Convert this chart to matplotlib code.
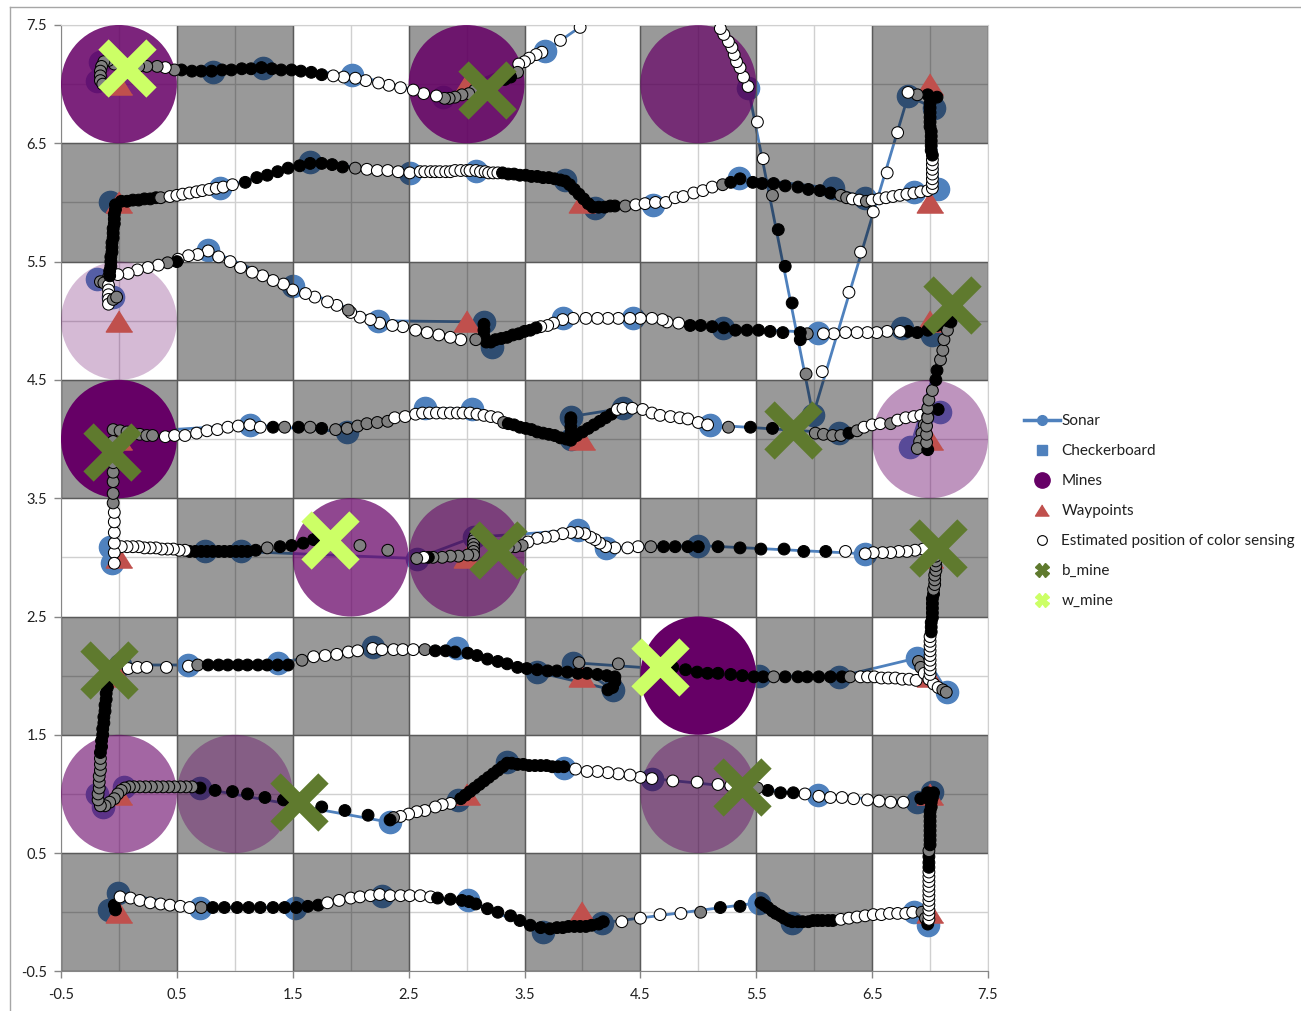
import numpy as np
import matplotlib
matplotlib.use("Agg")
import matplotlib.pyplot as plt
from matplotlib.patches import Rectangle, Ellipse
from matplotlib.lines import Line2D

plt.rcParams['font.family'] = ['Lato', 'DejaVu Sans']
plt.rcParams['axes.unicode_minus'] = False

# 8x8 board, cells centred on integer coordinates
board_n = 8

# mines: cell centre and detection strength (drawn as opacity)
mine_x = [0, 3, 5, 0, 0, 7, 2, 3, 5, 0, 1, 5]
mine_y = [7, 7, 7, 5, 4, 4, 3, 3, 2, 1, 1, 1]
mine_level = [0.86, 0.86, 0.70, 0.27, 1.0, 0.42, 0.72, 0.58, 1.0, 0.60, 0.38, 0.42]

# lawnmower route waypoints
wp_x = [0, 4, 7, 7, 3, 0, 0, 4, 7, 7, 3, 0, 0, 4, 7, 7, 3, 0, 0, 4, 7, 7, 3, 0]
wp_y = [0, 0, 0, 1, 1, 1, 2, 2, 2, 3, 3, 3, 4, 4, 4, 5, 5, 5, 6, 6, 6, 7, 7, 7]

# sonar track in driving order; sonar_fix = 0 marks a route corner with no fix
sonar_x = [-0.09, -0.01, 0.70, 1.52, 2.27, 3.01, 3.66, 4.17, 5.52, 5.81, 6.86, 6.98,
           7.02, 6.89, 6.03, 4.60, 3.84, 3.35, 2.93, 2.34, 0.70, 0.04, -0.14, -0.19, -0.09,
           0.01, 0.60, 1.37, 2.19, 2.92, 3.61, 4.26, 3.92, 5.52, 6.21, 6.89, 7.15, 7.00, 7.05,
           6.44, 5.00, 4.20, 3.96, 3.06, 2.57, 1.05, 0.74, -0.08, -0.06, -0.05,
           1.13, 1.97, 2.64, 3.05, 3.90, 3.90, 4.35, 5.10, 6.21, 7.09, 6.83, 7.18,
           7.02, 6.76, 6.03, 5.21, 4.44, 3.83, 3.22, 3.15, 2.24, 1.50, 0.77, -0.19, -0.05,
           -0.08, 0.87, 1.65, 2.51, 3.08, 3.85, 4.11, 4.61, 5.35, 6.16, 6.44, 6.86, 7.07,
           7.03, 6.81, 5.99, 5.43, 5.05, 4.30,
           3.68, 2.80, 2.01, 1.24, 0.81, -0.16, -0.19]
sonar_y = [0.02, 0.16, 0.04, 0.04, 0.14, 0.10, -0.17, -0.09, 0.08, -0.09, 0.00, -0.11,
           1.02, 0.93, 0.99, 1.13, 1.22, 1.27, 0.95, 0.76, 1.05, 1.06, 0.89, 1.00, 2.02,
           2.09, 2.09, 2.11, 2.24, 2.23, 2.03, 1.88, 2.11, 2.00, 1.99, 2.15, 1.86, 2.10, 3.05,
           3.03, 3.10, 3.08, 3.23, 3.17, 2.99, 3.05, 3.05, 3.09, 2.95, 4.05,
           4.12, 4.06, 4.26, 4.25, 4.00, 4.19, 4.26, 4.12, 4.05, 4.23, 3.93, 5.00,
           4.88, 4.94, 4.90, 4.94, 5.02, 5.02, 4.78, 4.99, 5.00, 5.29, 5.60, 5.35, 5.20,
           6.00, 6.12, 6.34, 6.25, 6.27, 6.19, 5.95, 5.98, 6.21, 6.12, 6.04, 6.09, 6.11,
           6.80, 6.90, 4.20, 6.97, 7.80, 7.70,
           7.28, 6.89, 7.08, 7.14, 7.10, 7.19, 7.03]
sonar_fix = [1, 1, 1, 1, 1, 1, 1, 1, 1, 1, 1, 1,
             1, 1, 1, 1, 1, 1, 1, 1, 1, 1, 1, 1, 0,
             1, 1, 1, 1, 1, 1, 1, 1, 1, 1, 1, 1, 0, 0,
             1, 1, 1, 1, 1, 1, 1, 1, 1, 1, 0,
             1, 1, 1, 1, 1, 1, 1, 1, 1, 1, 1, 0,
             1, 1, 1, 1, 1, 1, 1, 1, 1, 1, 1, 1, 1,
             1, 1, 1, 1, 1, 1, 1, 1, 1, 1, 1, 1, 1,
             1, 1, 1, 1, 0, 0,
             1, 1, 1, 1, 1, 1, 1]

# mine detections
b_mine_x = [3.18, 7.19, -0.06, 5.82, 3.27, 7.07, -0.09, 1.55, 5.38]
b_mine_y = [6.95, 5.13, 3.89, 4.08, 3.06, 3.08, 2.05, 0.93, 1.06]
w_mine_x = [0.07, 1.82, 4.67]
w_mine_y = [7.14, 3.15, 2.07]

# estimated position at each colour reading: (x, y, reading) w=white, k=black, g=grey
row0_dots = [
    (-0.03, 0.02, 'k'), (-0.04, 0.06, 'k'), (0.01, 0.13, 'w'), (0.10, 0.12, 'w'), (0.18, 0.10, 'w'),
    (0.27, 0.08, 'w'), (0.36, 0.07, 'w'), (0.44, 0.06, 'w'), (0.53, 0.05, 'w'), (0.61, 0.04, 'w'),
    (0.71, 0.04, 'g'), (0.81, 0.04, 'k'), (0.91, 0.04, 'k'), (1.02, 0.04, 'k'), (1.12, 0.04, 'k'),
    (1.22, 0.04, 'k'), (1.33, 0.04, 'k'), (1.43, 0.04, 'k'), (1.53, 0.04, 'k'), (1.63, 0.05, 'k'),
    (1.72, 0.06, 'k'), (1.80, 0.08, 'w'), (1.90, 0.10, 'w'), (2.00, 0.12, 'w'), (2.08, 0.13, 'w'),
    (2.17, 0.14, 'w'), (2.25, 0.15, 'w'), (2.34, 0.14, 'w'), (2.43, 0.14, 'w'), (2.51, 0.14, 'w'),
    (2.60, 0.14, 'w'), (2.69, 0.13, 'w'), (2.75, 0.12, 'k'), (2.86, 0.11, 'k'), (2.96, 0.10, 'k'),
    (3.02, 0.09, 'k'), (3.08, 0.07, 'k'), (3.18, 0.03, 'k'), (3.27, 0.00, 'k'), (3.38, -0.03, 'k'),
    (3.46, -0.07, 'k'), (3.55, -0.11, 'k'), (3.64, -0.13, 'k'), (3.72, -0.14, 'k'), (3.78, -0.13, 'k'),
    (3.83, -0.13, 'k'), (3.88, -0.12, 'k'), (3.93, -0.12, 'k'), (3.98, -0.12, 'k'), (4.03, -0.12, 'k'),
    (4.08, -0.11, 'k'), (4.14, -0.10, 'k'), (4.18, -0.08, 'k'), (4.34, -0.08, 'w'), (4.50, -0.05, 'w'),
    (4.67, -0.02, 'w'), (4.85, -0.01, 'w'), (5.02, 0.00, 'g'), (5.19, 0.04, 'k'), (5.36, 0.05, 'k'),
    (5.54, 0.08, 'k'), (5.57, 0.06, 'k'), (5.60, 0.04, 'k'), (5.64, 0.01, 'k'), (5.67, -0.01, 'k'),
    (5.71, -0.03, 'k'), (5.74, -0.05, 'k'), (5.78, -0.07, 'k'), (5.81, -0.08, 'k'), (5.86, -0.08, 'k'),
    (5.90, -0.08, 'k'), (5.95, -0.08, 'k'), (5.99, -0.07, 'k'), (6.03, -0.07, 'k'), (6.07, -0.07, 'k'),
    (6.12, -0.07, 'k'), (6.16, -0.07, 'k'), (6.23, -0.06, 'w'), (6.30, -0.05, 'w'), (6.37, -0.04, 'w'),
    (6.44, -0.03, 'w'), (6.51, -0.02, 'w'), (6.58, -0.02, 'w'), (6.65, -0.01, 'w'), (6.72, -0.01, 'w'),
    (6.79, -0.01, 'w'), (6.85, 0.00, 'w'), (6.93, 0.00, 'g'), (6.96, -0.05, 'g'), (6.98, -0.10, 'k'),
    (6.99, -0.06, 'w'), (6.99, -0.02, 'w'), (6.99, 0.02, 'w'), (6.99, 0.06, 'w'), (6.99, 0.10, 'w'),
    (6.99, 0.14, 'w'), (6.99, 0.18, 'w'), (6.99, 0.22, 'w'), (6.99, 0.26, 'w'), (6.99, 0.30, 'w'),
    (6.99, 0.34, 'w'), (6.99, 0.38, 'k'), (6.99, 0.42, 'k'), (6.99, 0.47, 'k'), (6.99, 0.52, 'g'),
    (7.00, 0.57, 'k'), (7.00, 0.61, 'k'), (7.00, 0.65, 'k'), (7.00, 0.69, 'k'), (7.00, 0.73, 'k'),
    (7.00, 0.77, 'k'), (7.00, 0.81, 'k'), (7.00, 0.85, 'k'), (7.01, 0.89, 'k'), (7.01, 0.93, 'k'),
    (7.02, 0.97, 'k'), (7.03, 1.01, 'k'), (6.98, 1.01, 'k'), (6.92, 0.96, 'k'),
]

row1_dots = [
    (6.77, 0.93, 'w'), (6.66, 0.93, 'w'), (6.56, 0.94, 'w'), (6.46, 0.95, 'w'), (6.34, 0.96, 'w'),
    (6.24, 0.97, 'w'), (6.14, 0.97, 'w'), (6.04, 0.98, 'w'), (5.92, 1.00, 'w'), (5.82, 1.01, 'k'),
    (5.71, 1.01, 'k'), (5.60, 1.03, 'k'), (5.51, 1.05, 'g'), (5.28, 1.07, 'w'), (5.17, 1.08, 'w'),
    (4.99, 1.10, 'w'), (4.78, 1.11, 'w'), (4.60, 1.13, 'w'), (4.50, 1.14, 'w'), (4.41, 1.16, 'w'),
    (4.31, 1.17, 'w'), (4.22, 1.18, 'w'), (4.13, 1.19, 'w'), (4.04, 1.19, 'w'), (3.94, 1.21, 'w'),
    (3.84, 1.23, 'k'), (3.79, 1.23, 'k'), (3.74, 1.23, 'k'), (3.69, 1.24, 'k'), (3.64, 1.24, 'k'),
    (3.59, 1.24, 'k'), (3.54, 1.24, 'k'), (3.49, 1.25, 'k'), (3.44, 1.25, 'k'), (3.39, 1.26, 'k'),
    (3.35, 1.26, 'k'), (3.31, 1.23, 'k'), (3.27, 1.20, 'k'), (3.23, 1.17, 'k'), (3.19, 1.14, 'k'),
    (3.15, 1.11, 'k'), (3.11, 1.08, 'k'), (3.07, 1.05, 'k'), (3.03, 1.02, 'k'), (2.99, 0.99, 'k'),
    (2.95, 0.96, 'k'), (2.86, 0.92, 'w'), (2.79, 0.91, 'w'), (2.73, 0.89, 'w'), (2.64, 0.86, 'w'),
    (2.57, 0.85, 'w'), (2.50, 0.83, 'w'), (2.43, 0.81, 'w'), (2.37, 0.80, 'g'), (2.34, 0.78, 'k'),
    (2.15, 0.82, 'k'), (1.95, 0.86, 'k'), (1.75, 0.89, 'k'), (1.42, 0.95, 'k'), (1.26, 0.97, 'k'),
    (1.11, 1.00, 'k'), (0.98, 1.02, 'k'), (0.83, 1.03, 'k'), (0.70, 1.05, 'k'), (0.63, 1.06, 'g'),
    (0.58, 1.06, 'g'), (0.53, 1.06, 'g'), (0.48, 1.06, 'g'), (0.43, 1.06, 'g'), (0.38, 1.06, 'g'),
    (0.33, 1.06, 'g'), (0.28, 1.06, 'g'), (0.23, 1.06, 'g'), (0.18, 1.06, 'g'), (0.13, 1.06, 'g'),
    (0.09, 1.06, 'g'), (0.05, 1.05, 'g'), (0.02, 1.03, 'g'), (-0.01, 1.00, 'g'), (-0.04, 0.96, 'g'),
    (-0.08, 0.93, 'g'), (-0.12, 0.90, 'g'), (-0.16, 0.90, 'g'), (-0.18, 0.95, 'g'), (-0.18, 1.00, 'g'),
    (-0.17, 1.05, 'g'), (-0.17, 1.10, 'g'), (-0.17, 1.15, 'g'), (-0.16, 1.20, 'g'), (-0.16, 1.25, 'g'),
    (-0.16, 1.30, 'g'), (-0.16, 1.35, 'k'), (-0.15, 1.40, 'k'), (-0.15, 1.45, 'k'), (-0.14, 1.50, 'k'),
    (-0.14, 1.55, 'k'), (-0.13, 1.60, 'k'), (-0.13, 1.65, 'k'), (-0.12, 1.70, 'k'), (-0.12, 1.75, 'k'),
    (-0.11, 1.80, 'k'), (-0.11, 1.85, 'k'), (-0.10, 1.90, 'k'), (-0.10, 1.95, 'k'), (-0.09, 2.00, 'k'),
]

row2_dots = [
    (0.08, 2.06, 'w'), (0.16, 2.07, 'w'), (0.24, 2.07, 'w'), (0.41, 2.07, 'w'), (0.60, 2.08, 'w'),
    (0.68, 2.09, 'g'), (0.77, 2.09, 'k'), (0.86, 2.09, 'k'), (0.94, 2.09, 'k'), (1.03, 2.09, 'k'),
    (1.11, 2.09, 'k'), (1.20, 2.09, 'k'), (1.28, 2.09, 'k'), (1.37, 2.09, 'k'), (1.46, 2.09, 'k'),
    (1.58, 2.13, 'g'), (1.68, 2.16, 'w'), (1.78, 2.17, 'w'), (1.88, 2.18, 'w'), (1.98, 2.20, 'w'),
    (2.06, 2.21, 'w'), (2.19, 2.23, 'w'), (2.27, 2.22, 'w'), (2.37, 2.22, 'w'), (2.45, 2.22, 'w'),
    (2.54, 2.22, 'w'), (2.64, 2.22, 'g'), (2.73, 2.21, 'k'), (2.82, 2.21, 'k'), (2.90, 2.20, 'k'),
    (3.01, 2.19, 'k'), (3.09, 2.17, 'k'), (3.18, 2.14, 'k'), (3.27, 2.12, 'k'), (3.35, 2.10, 'k'),
    (3.44, 2.07, 'k'), (3.52, 2.06, 'k'), (3.61, 2.05, 'k'), (3.70, 2.04, 'k'), (3.78, 2.04, 'k'),
    (3.87, 2.03, 'k'), (3.96, 2.02, 'k'), (4.04, 2.02, 'k'), (4.13, 2.01, 'k'), (4.21, 2.00, 'k'),
    (4.28, 1.99, 'k'), (4.28, 1.95, 'k'), (4.26, 1.90, 'k'), (4.22, 1.88, 'k'), (3.97, 2.11, 'g'),
    (4.31, 2.10, 'g'), (4.78, 2.07, 'k'), (4.89, 2.05, 'k'), (4.99, 2.03, 'k'), (5.08, 2.02, 'k'),
    (5.17, 2.02, 'k'), (5.28, 2.01, 'k'), (5.38, 2.00, 'k'), (5.48, 1.99, 'k'), (5.56, 1.99, 'k'),
    (5.65, 1.99, 'g'), (5.75, 1.99, 'k'), (5.86, 1.99, 'k'), (5.94, 1.99, 'k'), (6.04, 1.99, 'k'),
    (6.14, 1.99, 'k'), (6.24, 1.99, 'k'), (6.31, 1.99, 'g'), (6.40, 1.99, 'w'), (6.46, 1.99, 'w'),
    (6.52, 1.99, 'w'), (6.58, 1.98, 'w'), (6.64, 1.98, 'w'), (6.70, 1.98, 'w'), (6.76, 1.97, 'w'),
    (6.82, 1.97, 'w'), (6.88, 1.96, 'w'), (6.90, 2.12, 'g'), (6.92, 2.07, 'g'), (6.95, 2.02, 'w'),
    (6.99, 1.97, 'w'), (7.03, 1.93, 'w'), (7.07, 1.90, 'w'), (7.11, 1.88, 'g'), (7.14, 1.86, 'g'),
    (7.00, 2.01, 'w'), (7.00, 2.05, 'w'), (7.00, 2.09, 'w'), (7.00, 2.13, 'w'), (7.00, 2.17, 'w'),
    (7.00, 2.21, 'w'), (7.00, 2.25, 'w'), (7.00, 2.29, 'w'), (7.00, 2.33, 'w'), (7.01, 2.37, 'k'),
    (7.01, 2.41, 'k'), (7.01, 2.45, 'k'), (7.02, 2.49, 'k'), (7.02, 2.53, 'k'), (7.02, 2.57, 'k'),
    (7.02, 2.61, 'k'), (7.02, 2.65, 'k'), (7.03, 2.69, 'k'), (7.03, 2.73, 'g'), (7.04, 2.77, 'g'),
    (7.04, 2.81, 'g'), (7.04, 2.85, 'g'), (7.05, 2.89, 'g'), (7.05, 2.93, 'g'), (7.05, 2.97, 'g'),
    (7.05, 3.01, 'g'),
]

row3_dots = [
    (6.94, 3.07, 'w'), (6.87, 3.06, 'w'), (6.80, 3.05, 'w'), (6.73, 3.05, 'w'), (6.66, 3.04, 'w'),
    (6.59, 3.04, 'w'), (6.51, 3.04, 'w'), (6.44, 3.03, 'w'), (6.27, 3.05, 'w'), (6.10, 3.05, 'k'),
    (5.91, 3.05, 'k'), (5.74, 3.07, 'k'), (5.54, 3.07, 'k'), (5.36, 3.08, 'k'), (5.17, 3.09, 'k'),
    (5.00, 3.09, 'k'), (4.91, 3.09, 'k'), (4.80, 3.09, 'k'), (4.70, 3.09, 'k'), (4.59, 3.09, 'g'),
    (4.48, 3.09, 'w'), (4.39, 3.08, 'w'), (4.28, 3.08, 'w'), (4.20, 3.09, 'w'), (4.15, 3.12, 'w'),
    (4.11, 3.15, 'w'), (4.07, 3.17, 'w'), (4.02, 3.20, 'w'), (3.96, 3.21, 'w'), (3.90, 3.21, 'w'),
    (3.83, 3.20, 'w'), (3.75, 3.18, 'w'), (3.68, 3.17, 'w'), (3.61, 3.16, 'w'), (3.53, 3.13, 'w'),
    (3.48, 3.10, 'g'), (3.42, 3.09, 'g'), (3.36, 3.08, 'g'), (3.07, 3.17, 'g'), (3.06, 3.14, 'g'),
    (3.06, 3.11, 'g'), (3.06, 3.08, 'g'), (3.06, 3.05, 'g'), (3.06, 3.02, 'g'), (3.01, 3.02, 'g'),
    (2.93, 3.01, 'g'), (2.86, 3.01, 'g'), (2.79, 3.00, 'g'), (2.71, 3.00, 'g'), (2.67, 3.00, 'k'),
    (2.63, 3.00, 'w'), (2.57, 2.99, 'g'), (2.32, 3.06, 'g'), (2.08, 3.10, 'g'), (1.68, 3.15, 'k'),
    (1.59, 3.12, 'k'), (1.49, 3.10, 'k'), (1.39, 3.09, 'k'), (1.28, 3.08, 'g'), (1.18, 3.06, 'k'),
    (1.11, 3.05, 'k'), (1.06, 3.05, 'k'), (1.01, 3.05, 'k'), (0.96, 3.05, 'k'), (0.91, 3.05, 'k'),
    (0.86, 3.05, 'k'), (0.81, 3.05, 'k'), (0.76, 3.05, 'k'), (0.71, 3.05, 'k'), (0.66, 3.05, 'k'),
    (0.61, 3.05, 'k'), (0.57, 3.06, 'w'), (0.52, 3.06, 'w'), (0.47, 3.07, 'w'), (0.42, 3.07, 'w'),
    (0.37, 3.07, 'w'), (0.32, 3.08, 'w'), (0.27, 3.08, 'w'), (0.22, 3.08, 'w'), (0.17, 3.09, 'w'),
    (0.12, 3.09, 'w'), (0.07, 3.09, 'w'), (0.02, 3.09, 'w'), (-0.04, 3.04, 'w'), (-0.04, 2.95, 'w'),
    (-0.04, 3.12, 'w'), (-0.04, 3.21, 'w'), (-0.04, 3.30, 'w'), (-0.04, 3.38, 'w'), (-0.05, 3.46, 'g'),
    (-0.05, 3.54, 'g'), (-0.05, 3.64, 'g'), (-0.05, 3.72, 'g'), (-0.05, 3.80, 'g'), (-0.05, 3.89, 'g'),
    (-0.05, 3.98, 'g'),
]

row4_dots = [
    (-0.05, 4.08, 'g'), (0.01, 4.07, 'g'), (0.07, 4.06, 'g'), (0.12, 4.05, 'g'), (0.18, 4.04, 'g'),
    (0.24, 4.03, 'g'), (0.29, 4.03, 'g'), (0.40, 4.02, 'w'), (0.48, 4.03, 'w'), (0.57, 4.03, 'w'),
    (0.67, 4.05, 'w'), (0.76, 4.07, 'w'), (0.85, 4.08, 'w'), (0.94, 4.10, 'w'), (1.03, 4.11, 'w'),
    (1.13, 4.12, 'w'), (1.22, 4.10, 'w'), (1.33, 4.10, 'k'), (1.43, 4.10, 'g'), (1.55, 4.10, 'k'),
    (1.65, 4.10, 'g'), (1.75, 4.09, 'k'), (1.87, 4.08, 'g'), (1.97, 4.09, 'g'), (2.06, 4.11, 'g'),
    (2.14, 4.13, 'g'), (2.23, 4.14, 'g'), (2.32, 4.15, 'g'), (2.38, 4.18, 'w'), (2.47, 4.19, 'w'),
    (2.56, 4.21, 'w'), (2.62, 4.22, 'w'), (2.68, 4.22, 'w'), (2.74, 4.22, 'w'), (2.80, 4.22, 'w'),
    (2.86, 4.22, 'w'), (2.92, 4.22, 'w'), (2.97, 4.22, 'w'), (3.03, 4.22, 'w'), (3.09, 4.21, 'w'),
    (3.15, 4.20, 'w'), (3.21, 4.19, 'w'), (3.27, 4.18, 'w'), (3.32, 4.14, 'g'), (3.36, 4.13, 'k'),
    (3.41, 4.12, 'k'), (3.46, 4.10, 'k'), (3.51, 4.09, 'k'), (3.56, 4.08, 'k'), (3.61, 4.06, 'k'),
    (3.66, 4.05, 'k'), (3.71, 4.04, 'k'), (3.76, 4.03, 'k'), (3.81, 4.01, 'k'), (3.86, 4.00, 'k'),
    (3.90, 3.99, 'k'), (3.90, 4.05, 'k'), (3.90, 4.10, 'k'), (3.90, 4.15, 'k'), (3.90, 4.18, 'k'),
    (3.95, 4.03, 'k'), (4.00, 4.06, 'k'), (4.05, 4.09, 'k'), (4.10, 4.12, 'k'), (4.15, 4.15, 'k'),
    (4.20, 4.18, 'k'), (4.25, 4.21, 'k'), (4.30, 4.25, 'w'), (4.35, 4.26, 'w'), (4.43, 4.26, 'w'),
    (4.52, 4.25, 'w'), (4.60, 4.22, 'w'), (4.67, 4.20, 'w'), (4.76, 4.19, 'w'), (4.84, 4.18, 'w'),
    (4.91, 4.17, 'w'), (5.00, 4.14, 'w'), (5.08, 4.12, 'w'), (5.26, 4.10, 'g'), (5.45, 4.10, 'k'),
    (5.64, 4.09, 'k'), (6.01, 4.05, 'g'), (6.08, 4.04, 'g'), (6.16, 4.03, 'g'), (6.23, 4.03, 'g'),
    (6.30, 4.05, 'k'), (6.37, 4.07, 'g'), (6.43, 4.10, 'w'), (6.50, 4.12, 'w'), (6.57, 4.13, 'w'),
    (6.66, 4.13, 'g'), (6.72, 4.16, 'w'), (6.79, 4.18, 'w'), (6.86, 4.19, 'w'), (6.92, 4.20, 'w'),
    (7.07, 4.25, 'k'), (6.98, 4.19, 'g'), (6.95, 4.12, 'g'), (6.93, 4.05, 'g'), (6.91, 3.98, 'g'),
    (6.89, 3.92, 'g'), (6.98, 3.91, 'k'), (6.97, 3.97, 'g'), (6.97, 4.04, 'g'), (6.97, 4.11, 'g'),
    (6.98, 4.18, 'g'), (6.98, 4.26, 'g'), (6.99, 4.33, 'g'), (7.02, 4.41, 'g'), (7.05, 4.50, 'k'),
    (7.06, 4.58, 'k'), (7.09, 4.67, 'g'), (7.11, 4.75, 'g'), (7.12, 4.84, 'g'), (7.15, 4.92, 'g'),
    (7.18, 4.99, 'k'),
]

row5_dots = [
    (7.15, 5.00, 'k'), (7.06, 4.96, 'k'), (6.98, 4.92, 'k'), (6.89, 4.90, 'k'), (6.81, 4.91, 'k'),
    (6.74, 4.91, 'w'), (6.63, 4.91, 'w'), (6.54, 4.90, 'w'), (6.46, 4.90, 'w'), (6.37, 4.90, 'w'),
    (6.27, 4.90, 'w'), (6.17, 4.89, 'w'), (6.08, 4.89, 'w'), (5.94, 4.89, 'g'), (5.88, 4.90, 'k'),
    (5.73, 4.90, 'k'), (5.62, 4.91, 'k'), (5.52, 4.92, 'k'), (5.42, 4.92, 'k'), (5.32, 4.92, 'k'),
    (5.22, 4.94, 'k'), (5.12, 4.95, 'k'), (5.02, 4.96, 'k'), (4.93, 4.96, 'k'), (4.83, 4.98, 'w'),
    (4.73, 4.99, 'w'), (4.69, 5.01, 'w'), (4.60, 5.02, 'w'), (4.50, 5.02, 'w'), (4.41, 5.02, 'w'),
    (4.31, 5.02, 'w'), (4.22, 5.02, 'w'), (4.13, 5.02, 'w'), (4.03, 5.02, 'w'), (3.92, 5.02, 'w'),
    (3.83, 5.01, 'w'), (3.75, 4.98, 'w'), (3.70, 4.96, 'w'), (3.64, 4.95, 'w'), (3.60, 4.94, 'k'),
    (3.55, 4.92, 'k'), (3.50, 4.91, 'k'), (3.45, 4.89, 'k'), (3.40, 4.88, 'k'), (3.35, 4.86, 'k'),
    (3.30, 4.85, 'k'), (3.25, 4.84, 'k'), (3.21, 4.82, 'k'), (3.17, 4.82, 'k'), (3.15, 4.87, 'k'),
    (3.15, 4.92, 'k'), (3.15, 4.97, 'k'), (3.08, 4.84, 'g'), (2.95, 4.84, 'w'), (2.86, 4.86, 'w'),
    (2.76, 4.88, 'w'), (2.66, 4.90, 'w'), (2.56, 4.92, 'w'), (2.45, 4.95, 'w'), (2.36, 4.96, 'w'),
    (2.25, 4.98, 'w'), (2.17, 5.01, 'w'), (2.08, 5.03, 'w'), (2.00, 5.07, 'w'), (1.98, 5.09, 'g'),
    (1.88, 5.13, 'w'), (1.80, 5.16, 'w'), (1.69, 5.20, 'w'), (1.61, 5.23, 'w'), (1.50, 5.26, 'w'),
    (1.42, 5.31, 'w'), (1.33, 5.34, 'w'), (1.24, 5.38, 'w'), (1.15, 5.41, 'w'), (1.05, 5.45, 'w'),
    (0.96, 5.50, 'w'), (0.86, 5.54, 'w'), (0.77, 5.59, 'w'), (0.68, 5.56, 'w'), (0.60, 5.55, 'w'),
    (0.51, 5.52, 'w'), (0.50, 5.50, 'k'), (0.42, 5.49, 'g'), (0.34, 5.47, 'w'), (0.25, 5.45, 'w'),
    (0.16, 5.43, 'w'), (0.08, 5.40, 'w'), (-0.01, 5.39, 'w'), (-0.09, 5.37, 'w'), (-0.16, 5.33, 'g'),
    (-0.13, 5.32, 'g'), (-0.09, 5.30, 'w'), (-0.09, 5.26, 'w'), (-0.09, 5.22, 'w'), (-0.09, 5.18, 'w'),
    (-0.09, 5.14, 'w'), (-0.05, 5.18, 'g'), (-0.02, 5.20, 'g'), (-0.08, 5.38, 'k'), (-0.08, 5.42, 'k'),
    (-0.07, 5.46, 'k'), (-0.07, 5.50, 'k'), (-0.07, 5.54, 'k'), (-0.06, 5.58, 'k'), (-0.06, 5.62, 'k'),
    (-0.06, 5.66, 'k'), (-0.05, 5.70, 'k'), (-0.05, 5.74, 'k'), (-0.05, 5.78, 'k'), (-0.04, 5.82, 'k'),
    (-0.04, 5.86, 'k'), (-0.04, 5.90, 'k'), (-0.03, 5.94, 'k'), (-0.03, 5.98, 'k'),
]

row6_dots = [
    (0.02, 6.01, 'k'), (0.07, 6.01, 'k'), (0.12, 6.02, 'k'), (0.17, 6.02, 'k'), (0.22, 6.03, 'k'),
    (0.27, 6.03, 'k'), (0.32, 6.04, 'k'), (0.36, 6.04, 'g'), (0.44, 6.05, 'w'), (0.50, 6.06, 'w'),
    (0.55, 6.07, 'w'), (0.61, 6.08, 'w'), (0.67, 6.09, 'w'), (0.72, 6.10, 'w'), (0.78, 6.11, 'w'),
    (0.84, 6.12, 'w'), (0.90, 6.13, 'w'), (0.98, 6.15, 'w'), (1.09, 6.17, 'k'), (1.19, 6.21, 'k'),
    (1.28, 6.23, 'k'), (1.37, 6.26, 'k'), (1.46, 6.29, 'k'), (1.56, 6.31, 'k'), (1.65, 6.33, 'k'),
    (1.75, 6.33, 'k'), (1.84, 6.32, 'k'), (1.93, 6.30, 'k'), (2.04, 6.29, 'g'), (2.14, 6.28, 'w'),
    (2.23, 6.27, 'w'), (2.32, 6.27, 'w'), (2.41, 6.26, 'w'), (2.51, 6.25, 'w'), (2.60, 6.26, 'w'),
    (2.64, 6.26, 'w'), (2.69, 6.26, 'w'), (2.73, 6.26, 'w'), (2.77, 6.26, 'w'), (2.82, 6.26, 'w'),
    (2.86, 6.26, 'w'), (2.90, 6.27, 'w'), (2.95, 6.27, 'w'), (3.00, 6.27, 'w'), (3.03, 6.27, 'w'),
    (3.08, 6.27, 'w'), (3.12, 6.26, 'w'), (3.16, 6.26, 'w'), (3.19, 6.25, 'w'), (3.23, 6.25, 'w'),
    (3.27, 6.25, 'w'), (3.31, 6.25, 'k'), (3.36, 6.24, 'k'), (3.41, 6.24, 'k'), (3.46, 6.23, 'k'),
    (3.51, 6.23, 'k'), (3.56, 6.22, 'k'), (3.61, 6.22, 'k'), (3.66, 6.21, 'k'), (3.71, 6.21, 'k'),
    (3.76, 6.20, 'k'), (3.81, 6.19, 'k'), (3.85, 6.18, 'k'), (3.89, 6.15, 'k'), (3.93, 6.11, 'k'),
    (3.97, 6.07, 'k'), (4.01, 6.03, 'k'), (4.05, 5.99, 'k'), (4.09, 5.96, 'k'), (4.14, 5.96, 'k'),
    (4.19, 5.96, 'k'), (4.24, 5.97, 'k'), (4.28, 5.97, 'k'), (4.37, 5.97, 'g'), (4.46, 5.98, 'w'),
    (4.54, 5.99, 'w'), (4.63, 6.00, 'w'), (4.72, 6.00, 'w'), (4.80, 6.04, 'w'), (4.87, 6.05, 'w'),
    (4.96, 6.08, 'w'), (5.04, 6.10, 'w'), (5.12, 6.13, 'w'), (5.21, 6.15, 'g'), (5.28, 6.17, 'k'),
    (5.36, 6.20, 'k'), (5.47, 6.17, 'k'), (5.55, 6.16, 'k'), (5.65, 6.16, 'k'), (5.75, 6.14, 'k'),
    (5.86, 6.13, 'k'), (5.95, 6.11, 'k'), (6.05, 6.10, 'k'), (6.14, 6.08, 'k'), (6.23, 6.06, 'g'),
    (6.28, 6.04, 'g'), (6.33, 6.03, 'w'), (6.39, 6.02, 'w'), (6.45, 6.01, 'g'), (6.50, 6.02, 'w'),
    (6.56, 6.03, 'w'), (6.62, 6.04, 'w'), (6.68, 6.05, 'w'), (6.74, 6.06, 'w'), (6.80, 6.07, 'w'),
    (6.86, 6.08, 'w'), (6.92, 6.09, 'w'), (6.98, 6.10, 'w'), (7.02, 6.12, 'w'), (7.02, 6.16, 'w'),
    (7.02, 6.20, 'w'), (7.02, 6.24, 'w'), (7.02, 6.28, 'w'), (7.02, 6.32, 'w'), (7.02, 6.36, 'w'),
    (7.02, 6.40, 'k'), (7.01, 6.44, 'k'), (7.01, 6.48, 'k'), (7.01, 6.52, 'k'), (7.01, 6.56, 'k'),
    (7.01, 6.60, 'k'), (7.00, 6.64, 'k'), (7.00, 6.68, 'k'), (7.00, 6.72, 'k'), (7.00, 6.76, 'k'),
    (7.00, 6.80, 'k'), (7.00, 6.84, 'k'), (7.01, 6.88, 'k'), (7.06, 6.89, 'k'), (6.98, 6.91, 'k'),
    (6.89, 6.91, 'g'), (6.81, 6.93, 'w'),
]

# sonar glitch above column 6
dip_dots = [
    (6.72, 6.59, 'w'), (6.63, 6.25, 'w'), (6.51, 5.92, 'w'), (6.40, 5.58, 'w'), (6.30, 5.24, 'w'),
    (6.07, 4.57, 'w'), (5.93, 4.55, 'g'), (5.88, 4.84, 'k'), (5.81, 5.15, 'k'), (5.75, 5.46, 'k'),
    (5.69, 5.77, 'k'), (5.64, 6.06, 'g'), (5.56, 6.37, 'w'), (5.51, 6.68, 'w'), (5.43, 6.98, 'w'),
    (5.39, 7.06, 'w'), (5.36, 7.14, 'w'), (5.33, 7.19, 'w'), (5.31, 7.25, 'w'), (5.29, 7.31, 'w'),
    (5.26, 7.36, 'w'), (5.22, 7.42, 'w'), (5.19, 7.47, 'w'),
]

row7_dots = [
    (3.98, 7.48, 'w'), (3.81, 7.37, 'w'), (3.65, 7.27, 'w'), (3.60, 7.25, 'w'), (3.54, 7.22, 'w'),
    (3.50, 7.19, 'w'), (3.45, 7.17, 'w'), (3.44, 7.10, 'g'), (3.38, 7.06, 'k'), (3.33, 7.04, 'k'),
    (3.07, 6.95, 'g'), (3.02, 6.92, 'g'), (2.96, 6.91, 'g'), (2.90, 6.89, 'g'), (2.85, 6.88, 'g'),
    (2.81, 6.88, 'g'), (2.74, 6.90, 'w'), (2.63, 6.92, 'w'), (2.54, 6.95, 'w'), (2.43, 6.97, 'w'),
    (2.33, 6.99, 'w'), (2.24, 7.01, 'w'), (2.13, 7.03, 'w'), (2.04, 7.05, 'w'), (1.94, 7.06, 'w'),
    (1.85, 7.07, 'w'), (1.75, 7.08, 'k'), (1.66, 7.10, 'k'), (1.57, 7.11, 'k'), (1.49, 7.12, 'k'),
    (1.40, 7.12, 'k'), (1.32, 7.13, 'k'), (1.23, 7.14, 'k'), (1.14, 7.13, 'k'), (1.06, 7.13, 'k'),
    (0.97, 7.12, 'k'), (0.89, 7.12, 'k'), (0.80, 7.11, 'k'), (0.71, 7.11, 'k'), (0.63, 7.11, 'k'),
    (0.54, 7.12, 'k'), (0.48, 7.12, 'g'), (0.40, 7.14, 'w'), (0.33, 7.15, 'g'), (0.24, 7.15, 'g'),
    (0.17, 7.15, 'g'), (0.10, 7.16, 'g'), (0.03, 7.16, 'g'), (-0.04, 7.17, 'g'), (-0.09, 7.20, 'g'),
    (-0.13, 7.19, 'g'), (-0.15, 7.15, 'g'), (-0.16, 7.11, 'g'), (-0.16, 7.07, 'g'), (-0.16, 7.03, 'g'),
    (-0.14, 7.00, 'g'),
]

c_sonar = '#4F81BD'
c_mine = '#660066'
c_wp = '#C0504D'
c_bmine = '#5F7A2E'
c_wmine = '#CCFF66'
reading_colour = {'w': 'white', 'k': 'black', 'g': '#808080'}

fig = plt.figure(figsize=(13.01, 10.11), dpi=100)
ax = fig.add_axes([61 / 1301, 1 - 971.4 / 1011, 927 / 1301, 946.4 / 1011])

# sonar track sits under the board shading; markers only on real fixes
fix_idx = [i for i, f in enumerate(sonar_fix) if f]
ax.plot(sonar_x, sonar_y, color=c_sonar, lw=2, marker='o', ms=16,
        mfc=c_sonar, mec=c_sonar, markevery=fix_idx, zorder=1.5)

# grey squares of the checkerboard
for cx in range(board_n):
    for cy in range(board_n):
        if (cx + cy) % 2 == 0:
            ax.add_patch(Rectangle((cx - 0.5, cy - 0.5), 1, 1, facecolor=(0, 0, 0, 0.4),
                                   edgecolor='#5a5a5a', lw=1, zorder=2))

for mx, my, lvl in zip(mine_x, mine_y, mine_level):
    ax.add_patch(Ellipse((mx, my), 1, 1, facecolor=c_mine, alpha=lvl, lw=0, zorder=3))

tri = [(0, 0.8), (-1, -0.8), (1, -0.8)]
ax.plot(wp_x, wp_y, ls='none', marker=tri, ms=19, color=c_wp, zorder=4)

dots = row0_dots + row1_dots + row2_dots + row3_dots + row4_dots + row5_dots + row6_dots + dip_dots + row7_dots
ax.scatter([d[0] for d in dots], [d[1] for d in dots], s=72,
           c=[reading_colour[d[2]] for d in dots], edgecolors='black', linewidths=0.75, zorder=5)

ax.plot(b_mine_x, b_mine_y, ls='none', marker='x', ms=35, mew=10.5, color=c_bmine, zorder=6)
ax.plot(w_mine_x, w_mine_y, ls='none', marker='x', ms=35, mew=10.5, color=c_wmine, zorder=6)

ax.set_xlim(-0.5, 7.5)
ax.set_ylim(-0.5, 7.5)
ticks = np.arange(-0.5, 7.6, 1)
ax.set_xticks(ticks)
ax.set_yticks(ticks)
ax.set_xticks(np.arange(0, 8, 1), minor=True)
ax.set_yticks(np.arange(0, 8, 1), minor=True)
ax.set_xticklabels([f'{t:g}' for t in ticks])
ax.set_yticklabels([f'{t:g}' for t in ticks])
ax.set_axisbelow(True)
ax.grid(which='both', color='#d0d0d0', lw=1)
ax.tick_params(which='major', direction='out', length=5, width=1, color='#868686',
               labelsize=10.5, labelcolor='#202020')
ax.tick_params(axis='x', which='major', pad=7)
ax.tick_params(axis='y', which='major', pad=5)
ax.tick_params(which='minor', length=0)
for side in ['left', 'bottom']:
    ax.spines[side].set_color('#868686')
for side in ['top', 'right']:
    ax.spines[side].set_color('#d0d0d0')

handles = [
    Line2D([], [], color=c_sonar, lw=2.5, marker='o', ms=7, label='Sonar'),
    Line2D([], [], ls='none', marker='s', ms=7, color=c_sonar, label='Checkerboard'),
    Line2D([], [], ls='none', marker='o', ms=11, color=c_mine, label='Mines'),
    Line2D([], [], ls='none', marker=tri, ms=10, color=c_wp, label='Waypoints'),
    Line2D([], [], ls='none', marker='o', ms=7, mfc='white', mec='black', mew=0.8,
           label='Estimated position of color sensing'),
    Line2D([], [], ls='none', marker='X', ms=10, color=c_bmine, label='b_mine'),
    Line2D([], [], ls='none', marker='X', ms=10, color=c_wmine, label='w_mine'),
]
fig.legend(handles=handles, loc='upper left', bbox_to_anchor=(1024 / 1301, 1 - 414 / 1011),
           frameon=False, fontsize=11, handlelength=2.35, handletextpad=0.1,
           labelspacing=1.05, borderpad=0, borderaxespad=0, labelcolor='#202020')

# chart area frame
fig.add_artist(Line2D([10 / 1301, 10 / 1301], [0, 1 - 7 / 1011], transform=fig.transFigure,
                      color='#a6a6a6', lw=1))
fig.add_artist(Line2D([10 / 1301, 1], [1 - 7 / 1011, 1 - 7 / 1011], transform=fig.transFigure,
                      color='#a6a6a6', lw=1))

fig.savefig('out.png', dpi=100)
